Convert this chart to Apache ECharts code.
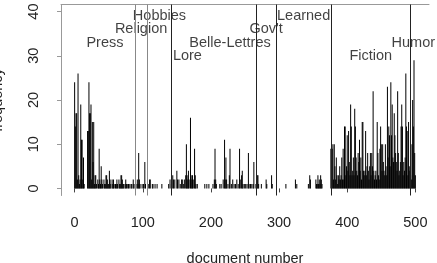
<!DOCTYPE html>
<html><head><meta charset="utf-8">
<script src="https://cdn.jsdelivr.net/npm/echarts@6/dist/echarts.min.js"></script>
<style>html,body{margin:0;padding:0;background:#fff;overflow:hidden}#c{width:437px;height:263px}</style>
</head><body><div id="c"></div>
<script>
// document numbers with a non-zero frequency, and their frequencies
const docs = [
  0,1,2,3,4,5,6,7,8,9,10,11,12,13,14,19,20,21,22,23,24,25,26,27,28,29,30,31,32,34,35,36,37,38,39,40,41,43,44,45,46,47,48,49,50,51,52,53,55,56,57,58,60,61,62,63,65,66,67,68,69,70,71,72,74,75,76,78,79,81,83,84,86,87,
  89,90,92,93,94,95,96,99,101,103,104,
  108,110,111,114,115,118,121,128,138,140,
  142,144,145,147,150,151,153,155,157,158,160,161,163,164,165,166,167,168,170,171,172,173,174,176,177,178,180,
  191,194,197,203,205,206,207,208,213,215,218,220,221,222,223,225,227,228,230,232,234,236,238,240,242,243,245,246,247,249,251,253,255,256,258,260,262,263,
  266,268,269,270,274,281,282,289,290,
  310,324,326,343,345,346,354,355,356,357,358,359,360,361,362,363,
  376,377,378,379,380,381,382,383,384,385,386,387,388,389,390,391,392,393,394,395,396,397,398,399,400,401,402,403,404,405,406,407,408,409,410,411,412,413,414,415,416,417,418,419,420,421,422,423,424,425,426,427,428,429,430,431,432,433,434,435,436,437,438,439,440,441,442,443,444,445,446,447,448,449,450,451,452,453,454,455,456,457,458,459,460,461,462,463,464,465,466,467,468,469,470,471,472,473,474,475,476,477,478,479,480,481,482,483,484,485,486,487,488,489,490,491,
  492,493,494,495,496,497,498,499,500
];
const freq = [
  24,14,17,17,2,26,3,1,2,19,11,11,2,7,1,13,13,24,17,17,19,2,15,6,15,1,3,3,1,2,1,9,2,1,5,2,1,2,1,1,3,3,2,1,1,4,2,1,2,1,2,1,1,1,2,1,2,1,1,3,3,2,1,1,1,2,1,1,1,1,1,1,2,1,
  1,1,2,1,8,2,1,1,1,6,1,
  1,2,2,1,1,1,1,1,1,2,
  1,3,2,2,4,2,2,1,2,2,1,2,3,10,3,2,4,2,16,2,3,3,2,9,3,1,1,
  1,1,1,1,2,9,2,1,1,1,2,11,2,7,2,1,3,9,1,2,1,1,2,1,9,2,3,4,1,1,1,1,8,1,1,1,1,6,
  1,3,3,1,1,2,1,3,1,
  1,2,1,1,3,2,2,1,1,3,1,2,1,3,2,1,
  9,3,9,10,2,10,5,2,7,3,1,3,2,5,2,3,7,2,9,2,14,14,3,5,12,4,13,6,3,19,14,3,4,7,3,18,14,7,4,3,8,6,11,4,7,2,15,15,4,3,4,13,3,5,8,4,2,5,8,3,8,5,22,4,2,3,4,2,15,8,3,2,9,14,10,4,10,6,4,3,10,5,3,23,7,14,12,5,24,12,19,7,6,17,12,8,6,4,22,8,3,4,6,14,19,14,3,6,4,7,26,14,13,3,15,5,
  4,3,2,10,20,14,29,8,3
];
const separators = [88.5, 106.5, 142, 266, 296, 376, 493];
const separatorColors = ['#888', '#888', '#222', '#222', '#222', '#222', '#222'];
const genreNames = ['Press', 'Religion', 'Hobbies', 'Lore', 'Belle-Lettres', "Gov't", 'Learned', 'Fiction', 'Humor'];
const genreX = [44.5, 97.5, 124.5, 165.5, 228, 281, 336, 434.5, 497];
const genreY = [33, 36, 39, 30, 33, 36, 39, 30, 33];
const xTicks = [0, 100, 200, 300, 400, 500];
const yTicks = [0, 10, 20, 30, 40];

const FONT = 'Liberation Sans, Arial, sans-serif';
const chart = echarts.init(document.getElementById('c'), null, {renderer: 'canvas'});
chart.setOption({
  animation: false,
  backgroundColor: '#fff',
  grid: {left: 61, right: 8, top: 4.5, bottom: 67.5, containLabel: false, outerBoundsMode: 'none'},
  xAxis: [{
    type: 'value', min: -20, max: 520,
    axisLine: {show: false},
    axisTick: {show: true, length: 4, lineStyle: {color: '#444'}, customValues: xTicks},
    axisLabel: {show: true, customValues: xTicks, margin: 20, fontSize: 14.5, fontFamily: FONT, color: '#222'},
    splitLine: {show: false},
    name: 'document number', nameLocation: 'middle', nameGap: 56,
    nameTextStyle: {fontSize: 14.5, fontFamily: FONT, color: '#222'}
  }, {
    type: 'value', position: 'top', min: -20, max: 520,
    axisLine: {show: true, onZero: false, lineStyle: {color: '#999', width: 1}},
    axisTick: {show: false}, axisLabel: {show: false}, splitLine: {show: false}
  }],
  yAxis: {
    type: 'value', min: -1.6, max: 41.6,
    axisLine: {show: true, onZero: false, lineStyle: {color: '#999', width: 1}},
    axisTick: {show: true, length: 4, lineStyle: {color: '#999'}, customValues: yTicks},
    axisLabel: {show: true, customValues: yTicks, rotate: 90, margin: 20, fontSize: 14.5, fontFamily: FONT, color: '#222'},
    splitLine: {show: false},
    name: 'frequency', nameLocation: 'middle', nameRotate: 90, nameGap: 56,
    nameTextStyle: {fontSize: 14.5, fontFamily: FONT, color: '#222'}
  },
  series: [{
    type: 'bar',
    data: docs.map((d, i) => [d, freq[i]]),
    barWidth: 1,
    itemStyle: {color: '#000'},
    markLine: {
      silent: true, symbol: 'none', animation: false,
      label: {show: false},
      lineStyle: {color: '#222', width: 1, type: 'solid'},
      emphasis: {disabled: true},
      data: separators.map((v, i) => ({xAxis: v, lineStyle: {color: separatorColors[i]}}))
    }
  }, {
    type: 'scatter',
    symbolSize: 0,
    data: genreNames.map((n, i) => ({name: n, value: [genreX[i], genreY[i]]})),
    label: {show: true, position: 'inside', formatter: '{b}', fontSize: 14.5, fontFamily: FONT, color: '#111'},
    silent: true
  }]
});
</script></body></html>
